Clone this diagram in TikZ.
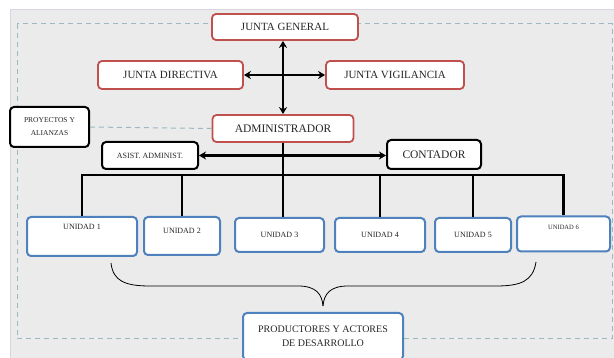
\documentclass[tikz,border=0pt]{standalone}
\usepackage{fontspec}
\setmainfont{Liberation Serif}
\usepackage{xcolor}
\definecolor{rojojunta}{HTML}{C0504D}
\definecolor{azulunidad}{HTML}{4F81BD}
\definecolor{grisfondo}{HTML}{EBEBEB}
\definecolor{grisborde}{HTML}{DCD3E0}
\definecolor{guion}{HTML}{9DB7BF}
\definecolor{texto}{HTML}{262626}
\usepackage{tikz}
\usetikzlibrary{arrows.meta,calc}

\begin{document}
\begin{tikzpicture}[x=1pt,y=-1pt,
  caja/.style={draw,fill=white,rounded corners=4pt,text=texto,align=center,inner sep=1pt},
  cajaroja/.style={caja,draw=rojojunta,line width=1.8pt,font=\fontsize{11}{12}\selectfont},
  cajanegra/.style={caja,draw=black,line width=2pt},
  cajaazul/.style={caja,draw=azulunidad,line width=2pt,font=\fontsize{8}{9}\selectfont},
  enlace/.style={line width=2.2pt,black},
  flecha/.style={enlace,{Stealth[length=7pt,width=8pt]}-{Stealth[length=7pt,width=8pt]}},
  borde/.style={guion,line width=1pt,dash pattern=on 5pt off 4pt}]
\useasboundingbox (0,0) rectangle (614,358);
% fondo y marco punteado
\fill[grisfondo] (10,9.5) rectangle (614,358);
\draw[grisborde,line width=0.8pt] (10,358) -- (10,9.5) -- (614,9.5);
\draw[borde] (17,24) rectangle (612,339);
% juntas
\node[cajaroja,minimum width=146,minimum height=26] (jg) at (285,27) {JUNTA GENERAL};
\node[cajaroja,minimum width=145,minimum height=28] (jd) at (170.5,75) {JUNTA DIRECTIVA};
\node[cajaroja,minimum width=138,minimum height=28] (jv) at (395,75) {JUNTA VIGILANCIA};
\node[cajaroja,minimum width=141,minimum height=27,font=\fontsize{11.5}{12}\selectfont] (adm) at (283,128.5) {ADMINISTRADOR};
% apoyo
\node[cajanegra,minimum width=79,minimum height=40,font=\fontsize{7.5}{13}\selectfont] (proy) at (49.5,127) {PROYECTOS Y\\ALIANZAS};
\node[cajanegra,minimum width=96,minimum height=27,font=\fontsize{8}{9}\selectfont] (asist) at (150,155.5) {ASIST. ADMINIST.};
\node[cajanegra,minimum width=94,minimum height=29,font=\fontsize{11.5}{12}\selectfont] (cont) at (434,154.5) {CONTADOR};
% unidades
\node[cajaazul,minimum width=110,minimum height=39,text depth=19pt] (u1) at (82,236.5) {UNIDAD 1};
\node[cajaazul,minimum width=76,minimum height=38,text depth=10pt] (u2) at (182,236) {UNIDAD 2};
\node[cajaazul,minimum width=89,minimum height=34] (u3) at (279.5,235) {UNIDAD 3};
\node[cajaazul,minimum width=90,minimum height=34] (u4) at (380,235) {UNIDAD 4};
\node[cajaazul,minimum width=76,minimum height=34] (u5) at (473,235) {UNIDAD 5};
\node[cajaazul,minimum width=93,minimum height=35,text depth=14pt,font=\fontsize{6.5}{7}\selectfont] (u6) at (563.5,234) {UNIDAD 6};
\node[cajaazul,minimum width=160,minimum height=47,font=\fontsize{10}{14}\selectfont] (prod) at (323,336.5) {PRODUCTORES Y ACTORES\\DE DESARROLLO};
% enlaces
\draw[flecha] (adm.north) -- (adm.north |- jg.south);
\draw[flecha] (jd.east) -- (jv.west);
\draw[flecha] (asist.east) -- (asist.east -| cont.west);
\draw[borde] (proy.east) -- (adm.west);
\coordinate (barra) at (283,175);
\draw[enlace] (adm.south) -- (adm.south |- u3.north);
\draw[enlace] (u1.north) |- (barra) -| (u6.north);
\foreach \u in {u2,u4,u5}
  \draw[enlace] (\u.north) -- (\u.north |- barra);
% llave hacia productores
\coordinate (punta) at (323,306);
\draw[line width=0.8pt] (111,263) .. controls (113,281) and (125,286) .. (150,286)
  -- (298,286) .. controls (316,286) and (322,294) .. (punta);
\draw[line width=0.8pt] (536,262) .. controls (533,281) and (521,286) .. (496,286)
  -- (348,286) .. controls (330,286) and (324,294) .. (punta);
\end{tikzpicture}
\end{document}
